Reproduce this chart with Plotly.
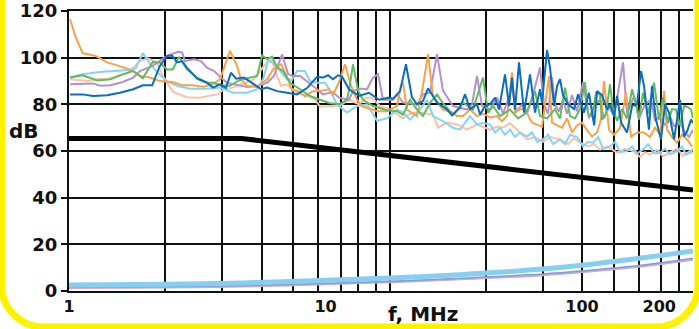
import plotly.graph_objects as go

# ---------------- data ----------------
orange_f = [1.01,1.06,1.13,1.27,1.41,1.62,1.78,1.89,2.07,2.26,2.54,2.76,3.04,3.33,3.64,3.88,4.24,4.52,4.68,4.94,5.41,5.92,6.24,6.71,7.15,7.40,7.74,8.32,8.86,9.43,10.32,10.69,11.28,11.91,12.57,13.27,13.88,14.52,15.88,17.37,19.00,19.70,20.05,20.79,22.74,23.99,25.11,26.24,28.70,31.41,32.57,34.35,36.59,38.97,41.11,43.79,46.64,48.76,51.01,53.34,54.81,57.32,59.96,63.83,69.82,74.35,76.39,79.92,83.57,87.43,91.42,95.64,99.97,104.6,109.4,114.5,118.6,121.8,127.4,133.4,140.7,148.4,155.3,163.9,174.5,184.1,192.6,201.4,208.9,214.5,224.3,234.6,245.3,256.7,268.4]
orange_db = [116.5,109,102,100.8,98,96,94.3,92.2,91.5,90,89.6,88.2,88.2,87.6,88.6,90.8,103,96.5,90.8,87.9,87.5,90.8,95,97.2,90.8,86,86,83.5,85.5,85.7,86.5,84,89.5,97.2,88,82,79.3,78.5,77.1,77.1,79.3,88,89.3,77.8,75,87.9,101.5,83.6,77.8,76.5,75,75,77.8,75,76,74.4,75,72.8,75,93.6,76.5,78,77.8,72.2,70.5,92,72.2,71,70,74,68,71,72.2,69,66.2,68,73.5,90,69.2,67,70,85,66.2,68,68,66,70,67,85.7,69.2,66,63.6,67,65,62]

lightblue_f = [1.01,1.13,1.32,1.70,1.82,1.94,2.07,2.22,2.41,2.64,2.96,3.45,3.88,4.36,4.94,5.41,5.71,5.97,6.24,6.65,7.08,7.40,7.74,8.32,8.70,9.27,9.96,10.41,11.09,12.13,13.27,14.52,15.88,17.37,19.00,20.05,21.35,23.36,24.88,26.24,28.70,31.41,33.45,36.59,38.97,41.11,43.79,45.80,47.90,50.10,52.40,54.81,57.32,61.05,63.83,66.78,70.44,73.73,77.07,82.09,85.87,89.80,95.64,100.9,105.6,110.4,115.6,120.7,128.6,134.5,140.7,149.8,156.7,163.9,172.8,180.9,190.9,201.4,210.7,220.3,234.6,245.3,254.3,263.7,270.8]
lightblue_db = [91.5,92.9,93.9,94.8,95.5,102,97.5,93.5,90,87.9,86.7,86.7,87.2,85,85,86.5,90.8,98.6,98,94.3,90.8,90.5,94.3,94.3,90,89.3,89.3,86,80,76.5,79.3,80,73,74,77.8,76.5,73.5,77.8,82,75,72.8,70,69.2,75,71.4,72,71.4,68,70,67,69.2,66,68,66.2,68,64,65,67,63,65,63,67,66,62,64,63.6,66,61,62,64,59.5,60,62,59,60.6,63,59,59.3,61,58.5,60,62,58.5,59.3,61]

salmon_f = [1.01,1.18,1.31,1.41,1.70,1.89,2.03,2.20,2.32,2.54,2.88,3.24,3.45,3.78,4.02,4.36,4.68,5.27,5.76,6.13,6.47,6.71,7.08,7.74,8.70,9.10,9.52,10.41,11.39,12.35,13.51,14.38,15.18,16.31,17.84,20.05,21.35,22.74,24.88,26.24,27.47,29.77,32.57,35.62,38.97,43.79,46.64,49.19,52.40,57.32,61.05,65.58,70.44,75.04,82.09,88.25,93.12,98.2,105.6,111.5,117.5,125.1,137.0,147.2,158.1,168.3,176.0,184.1,196.1,206.8,220.3,234.6,247.5,263.7,270.8]
salmon_db = [90.8,90,91,90.8,93.6,98.6,99.8,98,92.2,85.5,83.1,82.9,83.5,84.3,86.5,87.2,88.6,90.8,96.5,100,92.2,88,88.6,85,83.3,82,79,79.3,79.5,82,80,82.9,82.9,79.3,77.8,74,76,76.5,76,75.7,70,72.2,71.4,69.2,71.4,69.2,70.5,70,72,68,65,66,64,66,65,63,65.5,63.6,62,63,60.6,62,59.3,61,60,57.5,59.5,58.5,60.5,57.8,59.3,61,58,60,59]

purple_f = [1.01,1.24,1.32,1.45,1.62,1.78,1.89,2.12,2.41,2.66,2.76,2.83,3.07,3.27,3.45,3.68,3.91,4.13,4.40,4.94,5.41,5.92,6.30,6.77,7.15,7.47,7.96,8.47,9.27,9.78,10.69,11.28,12.35,12.80,13.63,14.52,15.31,16.03,16.75,18.32,19.00,20.05,22.74,23.99,25.55,27.21,28.70,31.41,35.62,37.25,38.97,40.75,43.79,46.64,49.19,51.49,53.34,55.28,58.35,61.05,64.39,68.59,71.13,73.73,76.39,78.49,81.34,84.31,87.43,91.42,95.64,100.9,106.4,112.4,117.5,121.8,127.4,133.4,139.4,144.5,149.8,159.6,166.8,176.0,185.8,192.6,201.4,210.7,220.3,228.5,241.0,252.1,261.2,270.8]
purple_db = [88.6,89,88,88.2,89.6,91.5,94.3,96.5,100.8,102.6,102.3,98.6,99.4,98.6,95.8,94.3,91.5,89.3,88.6,87.5,87.9,89.3,92.2,101.5,93,92.2,92.2,90,86.5,84.3,85.3,82.9,82,85.7,86.8,86.5,91.5,93,82,82,84.3,80.8,80,84.3,85,101.5,86,79.3,77.8,80,92.2,79.3,77.8,83,76,82,88,77,80,76,84,95.8,80,76,91.6,80,77,82,76,84,77,89.5,74,80,82,74,79,75,87.9,98,76,83.6,74,80,82,73,75,71,75,70.7,72,68,66,69]

green_f = [1.01,1.13,1.29,1.45,1.62,1.78,1.94,2.12,2.26,2.41,2.54,2.68,2.88,3.16,3.45,3.68,3.88,4.24,4.64,5.08,5.41,5.66,5.92,6.19,6.47,6.83,7.27,7.96,8.70,9.52,10.41,11.39,12.13,12.35,12.80,13.39,14.00,15.31,17.37,19.00,20.05,21.35,22.74,23.99,25.55,27.21,28.70,31.41,34.35,37.58,41.11,43.03,44.97,47.90,52.40,56.33,59.96,62.70,65.58,68.59,73.05,78.49,82.09,85.87,89.80,93.93,98.2,102.7,105.6,109.4,113.4,117.5,119.6,124.0,128.6,132.1,137.0,143.2,149.8,156.7,162.4,166.8,172.8,180.9,190.9,199.6,206.8,216.5,224.3,232.4,241.0,249.9,256.7,266.1,270.8]
green_db = [91.5,92.5,90.3,90.8,92.9,94.3,91.2,98.2,98,95,95,100.4,95,91.5,89.3,89.3,88.2,88,90.5,91.5,92.2,101,99.4,100.5,96,94.3,89.3,86.5,83.6,82,80.5,80.2,82,86,97.2,86,82,79.3,77.5,77.1,75.5,82,77.8,75,80.7,84.3,80.5,75.5,80.8,77.8,91.5,76.5,79.3,75,77.8,74,76,80,85.7,75,74,78,74,87.2,75,74,78,89.5,76,75,85,84.3,73.5,76,88.6,77.8,73,78,74,86.5,80,73.5,85,76,89.3,73.5,83,72,78,77.8,71,79.3,79,77.8,74]

blue_f = [1.01,1.13,1.24,1.41,1.58,1.78,1.94,2.11,2.26,2.41,2.52,2.64,2.76,2.88,3.16,3.45,3.64,3.88,4.09,4.28,4.48,4.81,5.27,5.61,5.92,6.47,7.08,7.74,8.47,9.27,9.78,10.23,10.69,11.19,11.59,12.35,13.51,14.77,16.16,17.68,18.32,19.52,20.59,21.73,22.74,23.99,25.11,27.21,29.77,31.13,33.45,34.99,36.59,38.97,40.03,41.87,43.79,45.80,47.47,50.10,51.92,53.34,54.81,56.80,59.44,62.70,65.58,68.59,69.82,73.05,75.04,77.82,79.92,82.09,84.31,88.25,93.12,96.54,101.8,106.4,111.5,114.5,119.6,125.1,128.6,133.4,137.0,142.0,149.8,156.7,163.9,169.8,174.5,182.4,187.4,194.2,203.2,210.7,218.3,228.5,241.0,249.9,256.7,266.1,270.8]
blue_db = [84.3,84.3,83.6,83.9,85,86.5,88.2,88.2,96.5,100.8,101,98,98.6,95.8,91,89.3,87.2,88.6,87,93.6,91,91.5,88.6,86.5,87.2,85.7,85,84.3,87,91.8,91.5,92.5,90.8,92.5,92,86.5,83.6,85,82,82.9,82.4,85.7,97.2,83,80,81.4,86.9,80.8,77.8,75.3,78.6,84.3,78,80,75.7,79.3,80,82.9,77.8,92.9,79.3,91.5,77.8,98,76.5,92.9,76.5,86.5,80.8,103.3,95.8,79.3,87.9,90.8,84,80,78,84.3,76.5,85,71,85.7,84,77.8,80,75,83.6,72.2,68,79.3,80,94.3,87.9,69.2,87.9,73.5,65,80,76.5,65,82,66.2,68.4,73.5,72]

limit_f = [1.0, 4.7, 270.8]
limit_db = [65.4, 65.4, 43.3]

low_f = [1.0, 4.24, 9.35, 17.84, 33.45, 70.44, 100.0, 166.8, 270.8]
low_lightblue_db = [2.6, 3.3, 4.5, 5.6, 7.0, 9.4, 11.0, 14.0, 17.2]
low_blue_db = [1.7, 2.2, 3.2, 4.2, 5.5, 7.3, 8.6, 10.9, 14.0]
low_lilac_db = [1.3, 1.8, 2.8, 3.8, 5.0, 6.8, 8.1, 10.4, 13.4]

x_grid = [2.367, 3.949, 5.655, 7.468, 9.355, 11.49, 13.39, 15.73, 17.84,
          42.23, 70.44, 100.0, 133.4, 166.8, 203.2, 238.8]
x_ticks = [1, 10, 100, 200]
x_ticktext = ["1", "10", "100", "200"]
y_ticks = [0, 20, 40, 60, 80, 100, 120]

FONT = "DejaVu Sans"
INK = "#111111"
fig = go.Figure()

def add(f, db, color, width, shape="linear"):
    n = min(len(f), len(db))
    fig.add_trace(go.Scatter(x=f[:n], y=db[:n], mode="lines",
                             line=dict(color=color, width=width, shape=shape),
                             hoverinfo="skip", showlegend=False))

add(salmon_f, salmon_db, "#FAC2A8", 2)
add(lightblue_f, lightblue_db, "#88D3F4", 2)
add(purple_f, purple_db, "#B690CC", 2)
add(orange_f, orange_db, "#F6A34C", 2)
add(green_f, green_db, "#62BA62", 2)
add(blue_f, blue_db, "#0A6EBE", 2)
add(limit_f, limit_db, "#000000", 5)
add(low_f, low_lilac_db, "#C9A9D9", 2, "spline")
add(low_f, low_blue_db, "#7E9FD6", 1.5, "spline")
add(low_f, low_lightblue_db, "#87CFF0", 5, "spline")

# ---------------- layout ----------------
L, R, T, B = 69, 6, 11, 38
W, H = 699, 329
PW, PH = W - L - R, H - T - B

def P(x, y):
    return (x - L) / PW, (H - B - y) / PH

def path_from(points):
    cmds = []
    for c, pts in points:
        cmds.append(c + " " + " ".join("%.5f,%.5f" % P(*p) for p in pts))
    return " ".join(cmds)

r, k = 42, 0.5523
xl, xr, yb, yt = 1.5, 698, 327, -30
border = path_from([
    ("M", [(xl, yt)]),
    ("L", [(xl, yb - r)]),
    ("C", [(xl, yb - r + r * k), (xl + r - r * k, yb), (xl + r, yb)]),
    ("L", [(xr - r, yb)]),
    ("C", [(xr - r + r * k, yb), (xr, yb - r + r * k), (xr, yb - r)]),
    ("L", [(xr, yt)]),
])

fig.update_layout(
    width=W, height=H,
    margin=dict(l=L, r=R, t=T, b=B, autoexpand=False),
    paper_bgcolor="white", plot_bgcolor="white",
    font=dict(family=FONT, color=INK),
    xaxis=dict(
        type="log", range=[0, 2.4327],
        tickmode="array", tickvals=x_ticks, ticktext=x_ticktext,
        showgrid=False, ticks="", zeroline=False,
        showline=True, linecolor=INK, linewidth=2, mirror=True,
        tickfont=dict(family=FONT, size=16, color=INK, weight="bold"),
        minor=dict(tickmode="array", tickvals=x_grid, showgrid=True,
                   gridcolor=INK, gridwidth=2, ticks=""),
    ),
    yaxis=dict(
        range=[0, 120.05], tickmode="array", tickvals=y_ticks,
        showgrid=True, gridcolor=INK, gridwidth=2,
        zeroline=False, showline=True, linecolor=INK, linewidth=2,
        ticks="outside", ticklen=6, tickwidth=2, tickcolor=INK,
        tickfont=dict(family=FONT, size=18, color=INK, weight="bold"),
    ),
    shapes=[dict(type="path", xref="paper", yref="paper", path=border,
                 line=dict(color="#FFF200", width=7), layer="above")],
    annotations=[
        dict(text="dB", xref="paper", yref="paper", x=P(24, 0)[0], y=P(0, 131)[1],
             showarrow=False, xanchor="center", yanchor="middle",
             font=dict(family=FONT, size=20, color=INK, weight="bold")),
        dict(text="f, MHz", xref="paper", yref="paper", x=P(423, 0)[0], y=P(0, 314)[1],
             showarrow=False, xanchor="center", yanchor="middle",
             font=dict(family=FONT, size=20, color=INK, weight="bold")),
    ],
)

fig.write_html("out.html", config={"displayModeBar": False},
               post_script="document.body.style.margin='0px';")
